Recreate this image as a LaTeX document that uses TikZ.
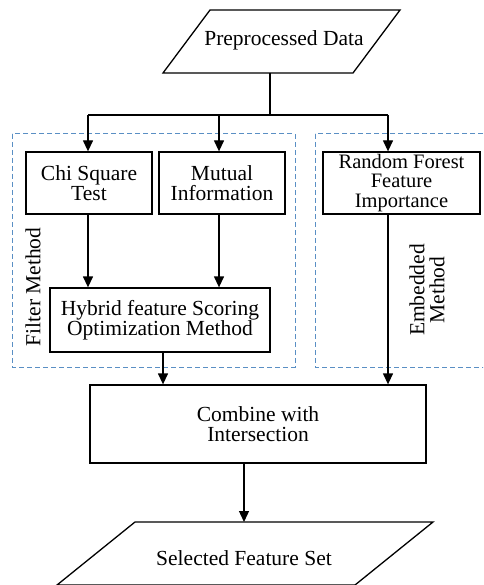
\documentclass[tikz,border=0pt]{standalone}
\usepackage{fontspec}
\setmainfont{Liberation Serif}
\usetikzlibrary{arrows.meta}
\definecolor{dashblue}{HTML}{5A8FC4}
\begin{document}
\begin{tikzpicture}[x=1pt,y=-1pt,
  line width=1.3pt,
  txt/.style={font=\fontsize{21.5}{20}\selectfont, align=center, inner sep=0pt},
  procbox/.style={draw, line width=1.3pt, txt},
  grp/.style={draw=dashblue, dashed, dash pattern=on 5pt off 3pt, line width=1pt},
  arr/.style={-{Triangle[width=10pt,length=11pt]}, line width=1.3pt},
  conn/.style={line width=1.3pt}]
\clip (0,0) rectangle (483,585);
\useasboundingbox (0,0) rectangle (483,585);
% group boxes
\draw[grp] (12,134) rectangle (295,367);
\draw[grp] (315,134) rectangle (490,367);
\node[txt, rotate=90] (filterlbl) at (33,287) {Filter Method};
\node[txt, rotate=90] (emblbl) at (427,290) {Embedded\\Method};
% top parallelogram
\draw[procbox] (210,10) -- (400,10) -- (353,73) -- (163,73) -- cycle;
\node[txt] (pre) at (284,40) {Preprocessed Data};
\coordinate (preb) at (270,73);
\coordinate (split) at (270,115);
% process boxes
\node[procbox, minimum width=126pt, minimum height=62pt] (chi) at (89,183) {Chi Square\\Test};
\node[procbox, minimum width=126pt, minimum height=62pt] (mi) at (222,183) {Mutual\\Information};
\node[procbox, minimum width=157pt, minimum height=62pt, font=\fontsize{20.5}{19.5}\selectfont] (rf) at (401.5,183) {Random Forest\\Feature\\Importance};
\node[procbox, minimum width=220pt, minimum height=64pt] (hyb) at (160,320) {Hybrid feature Scoring\\Optimization Method};
\node[procbox, minimum width=336pt, minimum height=78pt] (comb) at (258,424) {Combine with\\Intersection};
% bottom parallelogram
\draw[procbox] (135,522) -- (433,522) -- (355,585) -- (57,585) -- cycle;
\node[txt] (sel) at (244,558) {Selected Feature Set};
% connectors
\draw[conn] (preb) -- (split);
\draw[conn] (88,115) -- (388,115);
\draw[arr] (88,115) -- (chi.north -| 88,0);
\draw[arr] (219,115) -- (mi.north -| 219,0);
\draw[arr] (388,115) -- (rf.north -| 388,0);
\draw[arr] (chi.south -| 88,0) -- (hyb.north -| 88,0);
\draw[arr] (mi.south -| 219,0) -- (hyb.north -| 219,0);
\draw[arr] (hyb.south -| 163,0) -- (comb.north -| 163,0);
\draw[arr] (rf.south -| 388,0) -- (comb.north -| 388,0);
\draw[arr] (comb.south -| 244,0) -- (244,522);
\end{tikzpicture}
\end{document}
